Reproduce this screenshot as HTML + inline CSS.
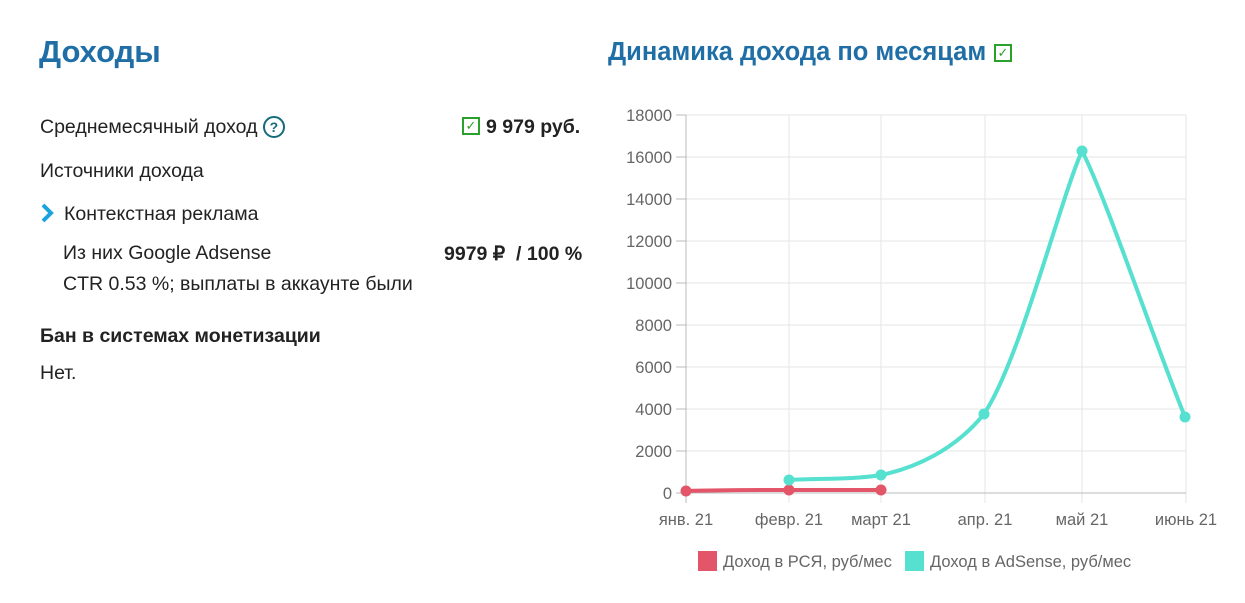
<!DOCTYPE html>
<html><head><meta charset="utf-8"><style>
body{margin:0;width:1245px;height:603px;background:#fff;font-family:"Liberation Sans",sans-serif;position:relative;overflow:hidden}
.a{position:absolute;white-space:nowrap}
.t{font-size:19.5px;color:#222}
</style></head><body>
<div class="a" style="left:39px;top:34px;font-size:31px;font-weight:bold;color:#1f6fa6">Доходы</div>
<div class="a t" style="left:40px;top:116px">Среднемесячный доход <span style="display:inline-block;width:18px;height:18px;border:2px solid #146b7a;border-radius:50%;font-size:14px;font-weight:bold;color:#146b7a;text-align:center;line-height:18px;vertical-align:1px">?</span></div>
<div class="a" style="left:462px;top:117px;width:18px;height:18px;border:2px solid #2aa12a;box-sizing:border-box;color:#2aa12a;font-size:13px;line-height:14px;text-align:center">✓</div>
<div class="a t" style="left:486px;top:116px;font-weight:bold">9 979 руб.</div>
<div class="a t" style="left:40px;top:160px">Источники дохода</div>
<svg class="a" style="left:40px;top:202px" width="16" height="22"><path d="M3,3 L11,11 L3,19" stroke="#1aa3dc" stroke-width="4" fill="none"/></svg>
<div class="a t" style="left:64px;top:203px">Контекстная реклама</div>
<div class="a t" style="left:63px;top:242px">Из них Google Adsense</div>
<div class="a t" style="left:444px;top:242px;font-weight:bold">9979 ₽ &nbsp;/ 100 %</div>
<div class="a t" style="left:63px;top:273px">CTR 0.53 %; выплаты в аккаунте были</div>
<div class="a t" style="left:40px;top:325px;font-weight:bold">Бан в системах монетизации</div>
<div class="a t" style="left:40px;top:362px">Нет.</div>
<div class="a" style="left:608px;top:38px;font-size:25.5px;font-weight:bold;color:#1f6fa6">Динамика дохода по месяцам</div>
<div class="a" style="left:994px;top:44px;width:18px;height:18px;border:2px solid #2aa12a;box-sizing:border-box;color:#2aa12a;font-size:13px;line-height:14px;text-align:center">✓</div>
<svg class="a" style="left:0;top:0" width="1245" height="603">
<g stroke="#e4e4e4" stroke-width="1">
<line x1="686" y1="115" x2="1186" y2="115"/><line x1="686" y1="157" x2="1186" y2="157"/><line x1="686" y1="199" x2="1186" y2="199"/><line x1="686" y1="241" x2="1186" y2="241"/><line x1="686" y1="283" x2="1186" y2="283"/><line x1="686" y1="325" x2="1186" y2="325"/><line x1="686" y1="367" x2="1186" y2="367"/><line x1="686" y1="409" x2="1186" y2="409"/><line x1="686" y1="451" x2="1186" y2="451"/>
<line x1="789" y1="115" x2="789" y2="503"/><line x1="881" y1="115" x2="881" y2="503"/><line x1="985" y1="115" x2="985" y2="503"/><line x1="1082" y1="115" x2="1082" y2="503"/><line x1="1186" y1="115" x2="1186" y2="503"/>
</g>
<g stroke="#bbb"><line x1="686" y1="115" x2="686" y2="503"/><line x1="676" y1="493" x2="1186" y2="493"/>
<line x1="676" y1="115" x2="686" y2="115"/><line x1="676" y1="157" x2="686" y2="157"/><line x1="676" y1="199" x2="686" y2="199"/><line x1="676" y1="241" x2="686" y2="241"/><line x1="676" y1="283" x2="686" y2="283"/><line x1="676" y1="325" x2="686" y2="325"/><line x1="676" y1="367" x2="686" y2="367"/><line x1="676" y1="409" x2="686" y2="409"/><line x1="676" y1="451" x2="686" y2="451"/></g>
<g font-size="16.5" fill="#666" text-anchor="end" font-family="Liberation Sans,sans-serif">
<text x="672" y="121">18000</text><text x="672" y="163">16000</text><text x="672" y="205">14000</text><text x="672" y="247">12000</text><text x="672" y="289">10000</text><text x="672" y="331">8000</text><text x="672" y="373">6000</text><text x="672" y="415">4000</text><text x="672" y="457">2000</text><text x="672" y="499">0</text></g>
<g font-size="16.5" fill="#666" text-anchor="middle" font-family="Liberation Sans,sans-serif">
<text x="686" y="525">янв. 21</text><text x="789" y="525">февр. 21</text><text x="881" y="525">март 21</text><text x="985" y="525">апр. 21</text><text x="1082" y="525">май 21</text><text x="1186" y="525">июнь 21</text></g>
<path d="M686,491 C720,490 755,490 789,490 C820,490 850,490 881,490" stroke="#e35568" stroke-width="4" fill="none"/>
<g fill="#e35568"><circle cx="686" cy="491" r="5.5"/><circle cx="789" cy="490" r="5.5"/><circle cx="881" cy="490" r="5.5"/></g>
<path d="M789,480 C820,478 850,480 881,475 C915,468 955,450 984,414 C1020,360 1060,200 1082,151 C1105,195 1150,330 1185,417" stroke="#55e0cf" stroke-width="4" fill="none"/>
<g fill="#55e0cf"><circle cx="789" cy="480" r="5.5"/><circle cx="881" cy="475" r="5.5"/><circle cx="984" cy="414" r="5.5"/><circle cx="1082" cy="151" r="5.5"/><circle cx="1185" cy="417" r="5.5"/></g>
<rect x="698" y="551" width="19" height="20" fill="#e35568"/><rect x="905" y="551" width="19" height="20" fill="#55e0cf"/>
<g font-size="16.5" fill="#666" font-family="Liberation Sans,sans-serif"><text x="723" y="567">Доход в РСЯ, руб/мес</text><text x="930" y="567">Доход в AdSense, руб/мес</text></g>
</svg>
</body></html>
